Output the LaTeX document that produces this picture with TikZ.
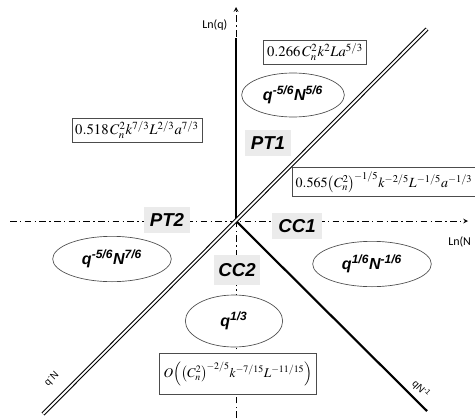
\documentclass[tikz,border=0pt]{standalone}
\usepackage{mathptmx}
\usepackage{fontspec}
\newfontfamily\zonefont{Liberation Sans}
\newfontfamily\axisfont{Carlito}
\usetikzlibrary{positioning}
\usetikzlibrary{shapes.geometric, arrows}
\tikzstyle{formula} = [rectangle,
draw=black!70,
line width=0.5pt,
fill=white,
inner sep=2.5pt,
font=\fontsize{11}{13}\selectfont]
\tikzstyle{regime} = [ellipse,
draw=black!70,
line width=0.5pt,
fill=white,
inner sep=0pt,
font=\zonefont\bfseries\itshape\fontsize{12}{14}\selectfont]
\tikzstyle{zonelabel} = [rectangle,
fill=black!8,
inner sep=0pt,
text centered,
font=\zonefont\bfseries\itshape\fontsize{14}{16}\selectfont]
\tikzstyle{axis} = [line width=0.6pt, dash pattern=on 5pt off 2.5pt on 1pt off 2.5pt, ->, >=stealth]
\tikzstyle{boundary} = [line width=0.8pt, double=white, double distance=1.4pt]
\tikzstyle{solidline} = [line width=1.6pt]
\tikzstyle{slope} = [font=\zonefont\fontsize{7.5}{9}\selectfont, inner sep=0pt]

\begin{document}
\begin{tikzpicture}[x=0.75pt, y=-0.75pt]
    \useasboundingbox (0,0) rectangle (475,418);
    % axes and boundaries
    \coordinate (O) at (236,221);
    \coordinate (ybot) at (236,418);
    \coordinate (ytop) at (236,7);
    \coordinate (qtop) at (236,38);
    \coordinate (xleft) at (10,221);
    \coordinate (xright) at (468,221);
    \coordinate (ne) at (427,29);
    \coordinate (sw) at (43,414);
    \coordinate (se) at (427,411);

    \draw [axis] (ybot) -- (ytop);
    \draw [axis] (xleft) -- (xright);
    \draw [solidline] (O) -- (qtop);
    \draw [solidline] (O) -- (se);
    \draw [boundary] (sw) -- (ne);

    \node (lnq) [font=\axisfont\fontsize{9}{11}\selectfont, left=3pt of qtop, yshift=10pt] {Ln(q)};
    \node (lnn) [font=\axisfont\fontsize{9}{11}\selectfont, anchor=west, inner sep=0pt] at (448,242) {Ln(N};
    \node (slopesw) [slope, rotate=45] at (52,379) {q\textsuperscript{-}N};
    \node (slopese) [slope, rotate=-45] at (421,389) {qN\textsuperscript{-1}};

    % formula boxes
    \node (f266) [formula] at (315,52) {$0.266\,C_n^2k^2La^{5/3}$};
    \node (f518) [formula] at (137,130) {$0.518\,C_n^2k^{7/3}L^{2/3}a^{7/3}$};
    \node (f565) [formula, font=\fontsize{10.5}{12}\selectfont, minimum height=22pt] at (384,182) {$0.565\bigl(C_n^2\bigr)^{\!-1/5}k^{-2/5}L^{-1/5}a^{-1/3}$};
    \node (fbig) [formula, font=\fontsize{10}{12}\selectfont, inner sep=3pt, minimum height=31pt] at (238,374) {$O\Bigl(\bigl(C_n^2\bigr)^{\!-2/5}k^{-7/15}L^{-11/15}\Bigr)$};

    % regimes
    \node (r1) [regime, minimum width=77pt, minimum height=33pt] at (293,95) {q\textsuperscript{-5/6}N\textsuperscript{5/6}};
    \node (r2) [regime, minimum width=89pt, minimum height=34pt] at (112,259) {q\textsuperscript{-5/6}N\textsuperscript{7/6}};
    \node (r3) [regime, minimum width=89pt, minimum height=34pt] at (372,264) {q\textsuperscript{1/6}N\textsuperscript{-1/6}};
    \node (r4) [regime, minimum width=73pt, minimum height=39pt] at (234,321) {q\textsuperscript{1/3}};

    % zone labels
    \node (pt1) [zonelabel, minimum width=35pt, minimum height=20pt] at (268,143) {PT1};
    \node (pt2) [zonelabel, minimum width=35pt, minimum height=19pt] at (167,220) {PT2};
    \node (cc1) [zonelabel, minimum width=37pt, minimum height=19pt] at (297,226) {CC1};
    \node (cc2) [zonelabel, minimum width=35pt, minimum height=22pt] at (237,270) {CC2};
\end{tikzpicture}
\end{document}
